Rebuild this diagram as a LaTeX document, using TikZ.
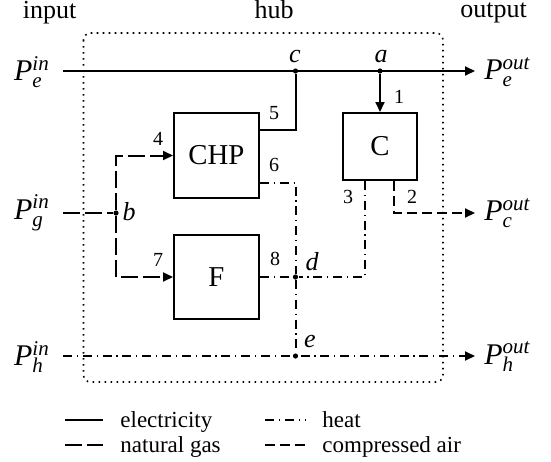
\documentclass[tikz,border=0pt]{standalone}
\usepackage{fontspec}
\setmainfont{Liberation Serif}
\usetikzlibrary{arrows.meta}
\newcommand{\mi}[1]{\mathit{#1}}
\newcommand{\PP}[2]{$\mi{P}_{\mi{#1}}^{\mi{#2}}$}
\begin{document}
\begin{tikzpicture}[x=0.5pt,y=-0.5pt,
  elec/.style={line width=1pt},
  gas/.style={line width=1pt,dash pattern=on 8.5pt off 2.5pt},
  heat/.style={line width=1pt,dash pattern=on 4.5pt off 2.4pt on 0.6pt off 2.4pt},
  air/.style={line width=1pt,dash pattern=on 5pt off 2.5pt},
  arr/.style={-{Triangle[length=5pt,width=4.5pt]}},
  dev/.style={draw,line width=1pt,inner sep=0pt,font=\fontsize{14.4}{16}\selectfont},
  jn/.style={circle,fill,inner sep=0pt,minimum size=2.6pt},
  num/.style={inner sep=0pt,font=\fontsize{10}{12}\selectfont},
  let/.style={inner sep=0pt,font=\fontsize{13}{15}\selectfont},
  port/.style={inner sep=0pt,font=\fontsize{15}{17}\selectfont},
  ttl/.style={inner sep=0pt,anchor=base,font=\fontsize{13}{15}\selectfont},
  leg/.style={inner sep=0pt,anchor=west,font=\fontsize{11.5}{13}\selectfont},
  hubline/.style={line width=0.8pt,dash pattern=on 0.8pt off 2.2pt,rounded corners=3.5pt}]
\useasboundingbox (0,0) rectangle (551,461);
% titles
\node[ttl] (tin) at (49.5,18) {input};
\node[ttl] (thub) at (274,18) {hub};
\node[ttl] (tout) at (493.5,17) {output};
% hub boundary
\draw[hubline] (83.5,33) rectangle (443,382);
% devices
\node[dev,minimum width=42.5pt,minimum height=42.5pt] (CHP) at (216.5,155.5) {CHP};
\node[dev,minimum width=42.5pt,minimum height=42pt] (F) at (216.5,277) {F};
\node[dev,minimum width=37pt,minimum height=33.5pt] (C) at (380,146.5) {C};
% junctions
\node[jn] (c) at (295.5,71) {};
\node[jn] (a) at (380,71) {};
\node[jn] (b) at (116,213) {};
\node[jn] (d) at (295.5,277) {};
\node[jn] (e) at (295.5,356) {};
% in/out ends
\coordinate (inE) at (63,71);
\coordinate (outE) at (475,71);
\coordinate (inG) at (63,213);
\coordinate (outC) at (475,213);
\coordinate (inH) at (63,356);
\coordinate (outH) at (475,356);
% port labels
\node[port] (PeI) at (32,72) {\PP{e}{in}};
\node[port] (PgI) at (32,213) {\PP{g}{in}};
\node[port] (PhI) at (32,357) {\PP{h}{in}};
\node[port,anchor=west] (PeO) at (484,72) {\PP{e}{out}};
\node[port,anchor=west] (PcO) at (484,213) {\PP{c}{out}};
\node[port,anchor=west] (PhO) at (484,357) {\PP{h}{out}};
% electricity
\draw[elec,arr] (inE) -- (outE);
\draw[elec,arr] (a) -- (C.north);
\draw[elec] ([yshift=13pt]CHP.east) -| (c);
% gas
\draw[gas] (inG) -- (b);
\draw[gas,arr] (b) |- (CHP.west);
\draw[gas,arr] (b) |- (F.west);
% heat
\draw[heat] ([yshift=-13.5pt]CHP.east) -| (d);
\draw[heat] ([xshift=-7.5pt]C.south) |- (d);
\draw[heat] (F.east) -- (d);
\draw[heat] (d) -- (e);
\draw[heat,arr] (inH) -- (outH);
% compressed air
\draw[air,arr] ([xshift=7pt]C.south) |- (outC);
% numbers
\node[num] (n1) at (399,97) {1};
\node[num] (n2) at (412,197) {2};
\node[num] (n3) at (348,197) {3};
\node[num] (n4) at (158,139) {4};
\node[num] (n5) at (274,113) {5};
\node[num] (n6) at (274,165) {6};
\node[num] (n7) at (158,260) {7};
\node[num] (n8) at (275,259) {8};
% junction letters
\node[let] (lc) at (295,56) {$\mi{c}$};
\node[let] (la) at (381,57) {$\mi{a}$};
\node[let] (lb) at (129,212) {$\mi{b}$};
\node[let] (ld) at (312,262) {$\mi{d}$};
\node[let] (le) at (310,341) {$\mi{e}$};
% legend
\coordinate (l1a) at (65,420); \coordinate (l1b) at (103,420);
\coordinate (l2a) at (65,445); \coordinate (l2b) at (103,445);
\coordinate (l3a) at (265,420); \coordinate (l3b) at (305,420);
\coordinate (l4a) at (265,445); \coordinate (l4b) at (305,445);
\draw[elec] (l1a) -- (l1b);
\draw[gas] (l2a) -- (l2b);
\draw[heat] (l3a) -- (l3b);
\draw[air] (l4a) -- (l4b);
\node[leg,anchor=base west] (t1) at (120,427) {electricity};
\node[leg,anchor=base west] (t2) at (120,452) {natural gas};
\node[leg,anchor=base west] (t3) at (322,427) {heat};
\node[leg,anchor=base west] (t4) at (322,452) {compressed air};
\end{tikzpicture}
\end{document}
